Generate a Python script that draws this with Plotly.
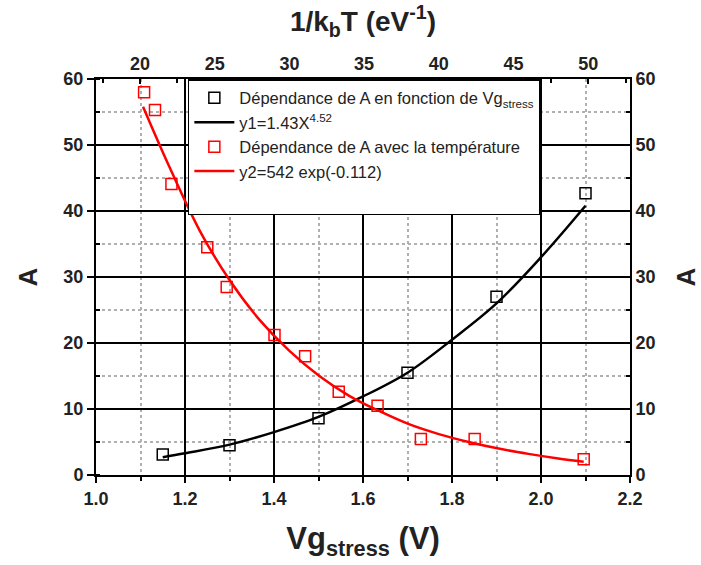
import plotly.graph_objects as go

# black series: A vs Vg stress
vg = [1.15, 1.3, 1.5, 1.7, 1.9, 2.1]
a_vg = [3.1, 4.5, 8.6, 15.5, 27.0, 42.7]
# black fitted curve
vg_fit = [1.15, 1.2, 1.3, 1.4, 1.5, 1.6, 1.7, 1.8, 1.9, 2.0, 2.1]
a_vg_fit = [2.7, 3.3, 4.6, 6.5, 8.8, 11.9, 15.5, 20.5, 26.0, 33.0, 40.8]

# red series: A vs 1/kbT
inv_kt = [20.27, 21.0, 22.1, 24.5, 25.8, 29.0, 31.05, 33.3, 35.9, 38.8, 42.4, 49.7]
a_t = [58.0, 55.3, 44.1, 34.5, 28.5, 21.2, 18.0, 12.6, 10.5, 5.45, 5.45, 2.4]
# red fitted curve
inv_kt_fit = [20.2, 22, 24, 26, 28, 30, 32, 34, 36, 38, 40, 42, 44, 46, 48, 49.7]
a_t_fit = [55.8, 46.5, 37.0, 29.5, 23.5, 18.8, 15.0, 12.0, 9.7, 7.7, 6.2, 5.0, 4.0, 3.2, 2.5, 2.0]

font = "Liberation Sans, Arial, sans-serif"
ink = "#222222"

fig = go.Figure()

fig.add_trace(go.Scatter(x=vg, y=a_vg, mode="markers",
                         marker=dict(symbol="square-open", size=11, color="black", line=dict(width=1.5)),
                         name="Dépendance de A en fonction de Vg<sub>stress</sub>"))
fig.add_trace(go.Scatter(x=vg_fit, y=a_vg_fit, mode="lines",
                         line=dict(color="black", width=2.5, shape="spline"),
                         name="y1=1.43X<sup>4.52</sup>"))
fig.add_trace(go.Scatter(x=inv_kt, y=a_t, mode="markers", xaxis="x2",
                         marker=dict(symbol="square-open", size=11, color="red", line=dict(width=1.5)),
                         name="Dépendance de A avec la température"))
fig.add_trace(go.Scatter(x=inv_kt_fit, y=a_t_fit, mode="lines", xaxis="x2",
                         line=dict(color="red", width=2.5, shape="spline"),
                         name="y2=542 exp(-0.112)"))

# empty entry: keeps the blank row at the bottom of the legend box, and draws the right axis
fig.add_trace(go.Scatter(x=[None], y=[None], yaxis="y2", mode="lines",
                         line=dict(width=0), name=" "))

tickfont = dict(family=font, size=18, color=ink, weight="bold")
axis_common = dict(showline=True, linecolor="black", linewidth=2,
                   tickcolor="black", tickwidth=1.5, zeroline=False,
                   automargin=False, tickfont=tickfont)

fig.update_layout(
    width=701, height=565,
    margin=dict(l=96, r=71, t=79, b=90),
    paper_bgcolor="white", plot_bgcolor="white",
    font=dict(family=font, color=ink),
    xaxis=dict(range=[1.0, 2.2], dtick=0.2, tick0=1.0, tickformat=".1f",
               ticks="outside", ticklen=6,
               showgrid=True, gridcolor="black", gridwidth=1.5,
               minor=dict(dtick=0.1, showgrid=True, gridcolor="#b0b0b0", griddash="dot",
                          ticks="outside", ticklen=4, tickcolor="black"),
               title=dict(text="<b>Vg<sub>stress</sub> (V)</b>", font=dict(size=31), standoff=20),
               **axis_common),
    xaxis2=dict(range=[17.05, 52.8], dtick=5, tick0=20, overlaying="x", side="top",
                ticks="inside", ticklen=5, showgrid=False,
                minor=dict(dtick=2.5, ticks="inside", ticklen=4, tickcolor="black"),
                title=dict(text="<b>1/k<sub>b</sub>T (eV<sup>-1</sup>)</b>", font=dict(size=28), standoff=14),
                **axis_common),
    yaxis=dict(range=[0, 60], dtick=10, ticks="outside", ticklen=7,
               showgrid=True, gridcolor="black", gridwidth=1.5,
               minor=dict(dtick=5, showgrid=True, gridcolor="#b0b0b0", griddash="dot",
                          ticks="inside", ticklen=4, tickcolor="black"),
               title=dict(text="<b>A</b>", font=dict(size=26), standoff=18),
               **axis_common),
    yaxis2=dict(range=[0, 60], dtick=10, overlaying="y", side="right", showgrid=False,
                ticks="inside", ticklen=5,
                minor=dict(dtick=5, ticks="inside", ticklen=4, tickcolor="black"),
                title=dict(text="<b>A</b>", font=dict(size=26), standoff=24),
                **axis_common),
    legend=dict(x=0.172, y=1.0, xanchor="left", yanchor="top",
                bgcolor="white", bordercolor="black", borderwidth=1.5,
                font=dict(family=font, size=16.5, color=ink),
                itemwidth=40),
    showlegend=True,
)

# the page's default body margin would push the figure 8px off; drop it
fig.write_html("out.html", config={"displayModeBar": False},
               post_script="document.body.style.margin='0';")
